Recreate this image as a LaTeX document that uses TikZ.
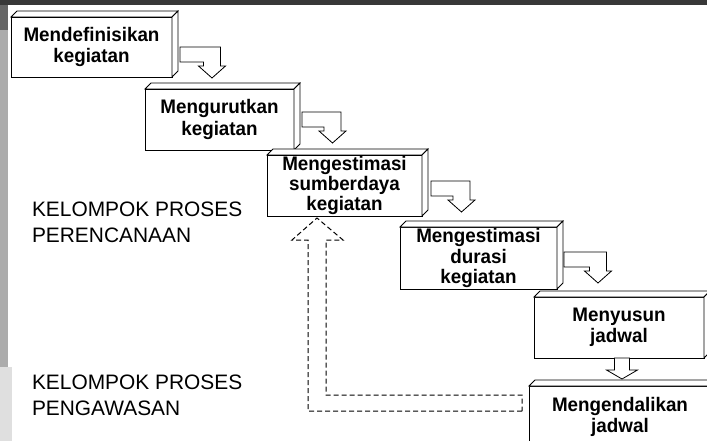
\documentclass[tikz,border=0pt]{standalone}
\usepackage{fontspec}
\setmainfont{Liberation Sans}
\newfontfamily\boxfont{Liberation Sans}[FakeStretch=0.96]
\usetikzlibrary{calc}
\newcommand\boxdepth[1]{%
  \draw[face] (#1.north west) -- ++(6,-6) -- ([shift={(6,-6)}]#1.north east) -- (#1.north east) -- cycle;
  \draw[face] (#1.north east) -- ++(6,-6) -- ([shift={(6,-6)}]#1.south east) -- (#1.south east) -- cycle;}
\newcommand\bentarrow[2]{%
  \draw[blockarrow] (#1) -- ++({#2+8.5},0) -- ++(0,19) -- ++(5,0) -- ++(-13.5,12) -- ++(-13.5,-12) -- ++(5,0) -- ++(0,-4) -- ++({-(#2-8.5)},0) -- cycle;}
\begin{document}
\begin{tikzpicture}[x=1pt,y=-1pt,
  face/.style={draw, fill=white, line width=0.8pt, line join=miter},
  stepbox/.style={draw, fill=white, line width=0.8pt, inner sep=0pt, outer sep=0pt, anchor=north west, align=center, font=\boxfont\bfseries\fontsize{19.6}{21.5}\selectfont},
  blockarrow/.style={draw, fill=white, line width=0.8pt},
  feedback/.style={draw, black, line width=1pt, dash pattern=on 5pt off 3pt},
  grouplabel/.style={inner sep=0pt, outer sep=0pt, anchor=base west, align=left, font=\fontsize{20.9}{26}\selectfont}]
\useasboundingbox (0,0) rectangle (707,441);
\clip (0,0) rectangle (707,441);
% slide background
\fill[white] (0,0) rectangle (707,441);
\fill[black!78] (0,0) rectangle (707,5);
\fill[gray!65] (0,5) rectangle (8,367);
\fill[black!60] (0,5) rectangle (8,30);
\fill[gray!25] (0,367) rectangle (12,441);
% steps
\node[stepbox, minimum width=161pt, minimum height=60pt] (b1) at (11,17) {Mendefinisikan\\kegiatan};
\node[stepbox, minimum width=149pt, minimum height=61pt] (b2) at (145,89) {Mengurutkan\\kegiatan};
\node[stepbox, minimum width=155pt, minimum height=61pt, font=\boxfont\bfseries\fontsize{19.6}{19.8}\selectfont] (b3) at (267,155) {Mengestimasi\\sumberdaya\\kegiatan};
\node[stepbox, minimum width=157pt, minimum height=62pt, font=\boxfont\bfseries\fontsize{19.6}{20.5}\selectfont] (b4) at (400,227) {Mengestimasi\\durasi\\kegiatan};
\node[stepbox, minimum width=170pt, minimum height=61pt] (b5) at (534,297) {Menyusun\\jadwal};
\node[stepbox, minimum width=182pt, minimum height=62pt] (b6) at (529,386) {Mengendalikan\\jadwal};
\foreach \b in {b1,b2,b3,b4,b5,b6} {\boxdepth{\b}}
% bent arrows
\coordinate (a1) at ($(b1.north east)+(8,30)$);
\coordinate (a2) at ($(b2.north east)+(8,23)$);
\coordinate (a3) at ($(b3.north east)+(9,26)$);
\coordinate (a4) at ($(b4.north east)+(7,25)$);
\bentarrow{a1}{32}
\bentarrow{a2}{30.5}
\bentarrow{a3}{30.5}
\bentarrow{a4}{34}
% straight arrow b5 -> b6
\coordinate (d0) at ($(b5.south)+(3,0)$);
\draw[blockarrow] ($(d0)+(-7.5,0)$) -- ++(0,12) -- ++(-8,0) -- ++(15.5,9) -- ++(15.5,-9) -- ++(-8,0) -- ++(0,-12) -- cycle;
% dashed feedback arrow b6 -> b3
\coordinate (f0) at ($(b6.north west)+(-7,25)$);
\coordinate (ft) at ($(b3.south)+(-27.5,2)$);
\draw[feedback] (f0) -- ($(ft|-f0)+(-9,0)$) -- ($(ft)+(-9,22)$) -- ($(ft)+(-25,22)$) -- (ft) -- ($(ft)+(26,22)$) -- ($(ft)+(9,22)$) -- ($(ft|-f0)+(9,-16)$) -- ($(f0)+(0,-16)$) -- cycle;
% group labels
\node[grouplabel] (l1) at (32,242.7) {KELOMPOK PROSES\\PERENCANAAN};
\node[grouplabel] (l2) at (32,415) {KELOMPOK PROSES\\PENGAWASAN};
\end{tikzpicture}
\end{document}
